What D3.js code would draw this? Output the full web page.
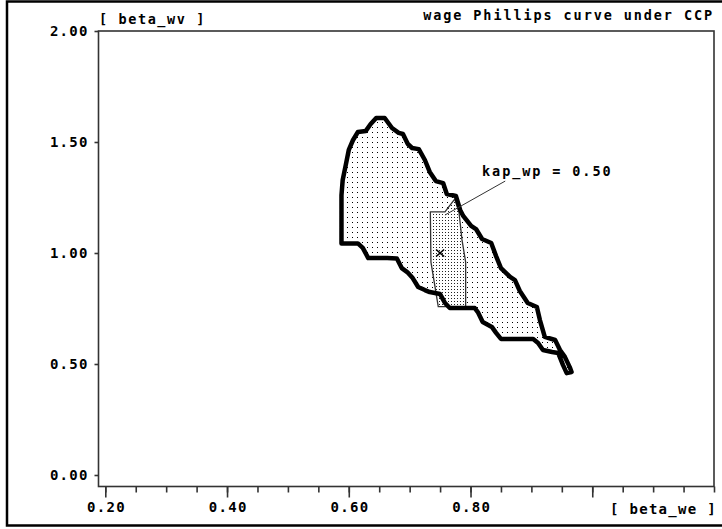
<!DOCTYPE html>
<html>
<head>
<meta charset="utf-8">
<script src="https://cdn.jsdelivr.net/npm/d3@7"></script>
<style>
  body { margin: 0; background: #fff; }
  svg { display: block; }
</style>
</head>
<body>
<svg id="chart"></svg>
<script>
// region boundary, [beta_we, beta_wv]
var outerRegion = [
  [0.588, 1.043], [0.588, 1.261], [0.590, 1.329], [0.595, 1.396], [0.600, 1.464],
  [0.607, 1.509], [0.615, 1.545], [0.628, 1.550], [0.636, 1.581], [0.645, 1.608],
  [0.659, 1.608], [0.671, 1.563], [0.682, 1.541], [0.689, 1.536], [0.697, 1.491],
  [0.704, 1.473], [0.715, 1.468], [0.725, 1.419], [0.733, 1.365], [0.743, 1.324],
  [0.755, 1.315], [0.761, 1.266], [0.776, 1.257], [0.783, 1.194], [0.788, 1.167],
  [0.801, 1.122], [0.809, 1.108], [0.819, 1.063], [0.834, 1.045], [0.842, 0.986],
  [0.850, 0.932], [0.865, 0.892], [0.873, 0.878], [0.881, 0.829], [0.894, 0.775],
  [0.909, 0.757], [0.914, 0.698], [0.922, 0.622], [0.939, 0.608], [0.947, 0.563],
  [0.955, 0.532], [0.963, 0.486], [0.966, 0.464], [0.958, 0.459], [0.952, 0.495],
  [0.944, 0.550], [0.934, 0.554], [0.919, 0.563], [0.911, 0.595], [0.903, 0.613],
  [0.893, 0.613], [0.850, 0.613], [0.842, 0.640], [0.835, 0.667], [0.820, 0.689],
  [0.812, 0.734], [0.807, 0.752], [0.766, 0.752], [0.758, 0.775], [0.750, 0.815],
  [0.733, 0.824], [0.725, 0.833], [0.714, 0.847], [0.705, 0.887], [0.696, 0.914],
  [0.687, 0.932], [0.679, 0.975], [0.663, 0.977], [0.632, 0.977], [0.623, 1.023],
  [0.615, 1.043]
]

var innerRegion = [
  [0.734, 1.185], [0.758, 1.185], [0.774, 1.243], [0.781, 1.185], [0.786, 1.059],
  [0.792, 0.959], [0.792, 0.758], [0.747, 0.758], [0.735, 0.959]
]

var refPoint = [0.75, 1.00]
var labelLine = [[0.857, 1.324], [0.758, 1.171]]
var labelPos = [0.819, 1.347]
var labelText = "kap_wp = 0.50"

var xMinorTicks = d3.range(4, 25).map(i => i / 20)
var xMajorTicks = [0.2, 0.4, 0.6, 0.8, 1.0]
var xTickLabels = {0.2: "0.20", 0.4: "0.40", 0.6: "0.60", 0.8: "0.80"}
var yTicks = [0, 0.5, 1.0, 1.5, 2.0]

var title = "wage Phillips curve under CCP"
var yLabel = "[ beta_wv ]"
var xLabel = "[ beta_we ]"

var width = 722
var height = 529
var frame = {left: 98.5, right: 714, top: 31, bottom: 486.5}
var mono = "'DejaVu Sans Mono', 'Liberation Mono', monospace"

var svg = d3.select("#chart")
  .attr("width", width)
  .attr("height", height)

var xScale = d3.scaleLinear()
  .domain([0.2, 1.2])
  .range([105.3, frame.right])

var yScale = d3.scaleLinear()
  .domain([0, 2])
  .range([475, frame.top])

// dot fills
var defs = svg.append("defs")
var sparse = defs.append("pattern")
  .attr("id", "sparseDots")
  .attr("patternUnits", "userSpaceOnUse")
  .attr("width", 5).attr("height", 5)
sparse.append("rect").attr("width", 5).attr("height", 5).attr("fill", "#fff")
sparse.append("rect").attr("x", 2).attr("y", 2).attr("width", 1).attr("height", 1)
  .attr("fill", "#000").attr("shape-rendering", "crispEdges")

var dense = defs.append("pattern")
  .attr("id", "denseDots")
  .attr("patternUnits", "userSpaceOnUse")
  .attr("width", 3).attr("height", 3)
dense.append("rect").attr("width", 3).attr("height", 3).attr("fill", "#fff")
dense.append("rect").attr("x", 1).attr("y", 1).attr("width", 1).attr("height", 1)
  .attr("fill", "#222").attr("shape-rendering", "crispEdges")

// outer border of the picture
svg.append("rect")
  .attr("x", 7).attr("y", 1.5)
  .attr("width", width + 10).attr("height", 524)
  .attr("fill", "none")
  .attr("stroke", "#000")
  .attr("stroke-width", 2.5)

var line = d3.line()
  .x(d => xScale(d[0]))
  .y(d => yScale(d[1]))

svg.append("path")
  .datum(outerRegion)
  .attr("d", d => line(d) + "Z")
  .attr("fill", "url(#sparseDots)")

svg.append("path")
  .datum(innerRegion)
  .attr("d", d => line(d) + "Z")
  .attr("fill", "url(#denseDots)")
  .attr("stroke", "#333")
  .attr("stroke-width", 1.3)

svg.append("path")
  .datum(outerRegion)
  .attr("d", d => line(d) + "Z")
  .attr("fill", "none")
  .attr("stroke", "#000")
  .attr("stroke-width", 4.5)
  .attr("stroke-linejoin", "round")

// x marker
var px = xScale(refPoint[0]), py = yScale(refPoint[1])
svg.append("path")
  .attr("d", `M${px - 4},${py - 3.5}L${px + 4},${py + 3.5}M${px + 4},${py - 3.5}L${px - 4},${py + 3.5}`)
  .attr("stroke", "#000")
  .attr("stroke-width", 1.6)

// annotation
svg.append("path")
  .datum(labelLine)
  .attr("d", line)
  .attr("stroke", "#333")
  .attr("stroke-width", 1)

var labelFont = function(sel, size, spacing) {
  sel.attr("font-family", mono)
    .attr("font-weight", "bold")
    .attr("font-size", size)
    .attr("letter-spacing", spacing)
    .attr("fill", "#000")
}

svg.append("text")
  .attr("x", xScale(labelPos[0]))
  .attr("y", yScale(labelPos[1]))
  .call(labelFont, 13.5, 1.9)
  .text(labelText)

// plot frame
svg.append("rect")
  .attr("x", frame.left).attr("y", frame.top)
  .attr("width", frame.right - frame.left)
  .attr("height", frame.bottom - frame.top)
  .attr("fill", "none")
  .attr("stroke", "#333")
  .attr("stroke-width", 1.6)

// axes
var xMinor = svg.append("g")
  .attr("transform", `translate(0,${frame.bottom})`)
  .call(d3.axisBottom(xScale).tickValues(xMinorTicks).tickSize(6).tickFormat(""))
var xMajor = svg.append("g")
  .attr("transform", `translate(0,${frame.bottom})`)
  .call(d3.axisBottom(xScale).tickValues(xMajorTicks).tickSize(11).tickPadding(5)
    .tickFormat(d => xTickLabels[d] || ""))
var yAxis = svg.append("g")
  .attr("transform", `translate(${frame.left},0)`)
  .call(d3.axisLeft(yScale).tickValues(yTicks).tickSize(4).tickPadding(7)
    .tickFormat(d3.format(".2f")))

svg.selectAll(".domain").remove()
svg.selectAll(".tick line").attr("stroke", "#333").attr("stroke-width", 1.6)
svg.selectAll(".tick text").call(labelFont, 14, 1.3)
xMajor.selectAll(".tick text").attr("dx", 0.7)
yAxis.selectAll(".tick text").attr("dx", 1.3)

// titles
svg.append("text")
  .attr("x", 714)
  .attr("y", 19.5)
  .attr("text-anchor", "end")
  .call(labelFont, 13.5, 1.9)
  .text(title)

svg.append("text")
  .attr("x", 99)
  .attr("y", 24)
  .call(labelFont, 13.5, 1.6)
  .text(yLabel)

svg.append("text")
  .attr("x", 717)
  .attr("y", 513.5)
  .attr("text-anchor", "end")
  .call(labelFont, 14, 1.3)
  .text(xLabel)
</script>
</body>
</html>
